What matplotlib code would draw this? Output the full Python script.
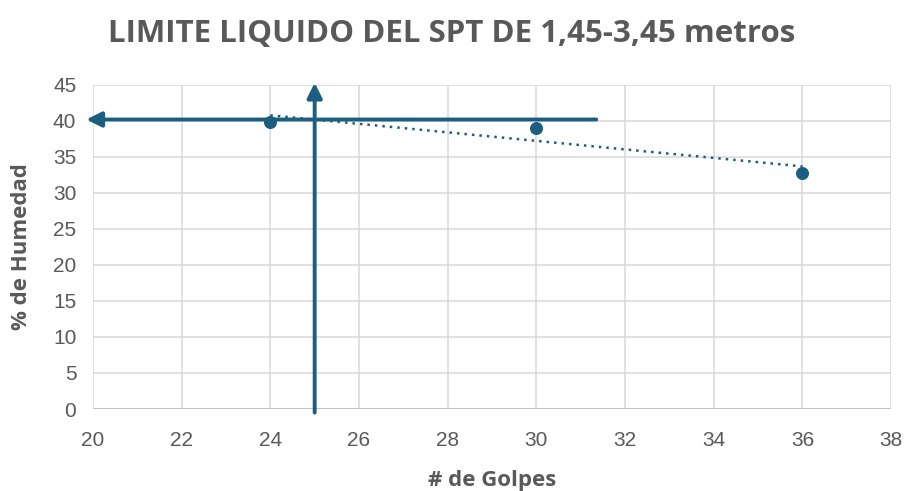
import numpy as np
import matplotlib
matplotlib.use("Agg")
import matplotlib.pyplot as plt

# Ensayo de límite líquido: número de golpes vs humedad
golpes = [24, 30, 36]
humedad = [39.9, 39.0, 32.8]

# Lectura gráfica del límite líquido a 25 golpes
golpes_ref = 25
hum_ref = 40.2
h_arrow_start = 31.35
h_arrow_end = 19.85
v_arrow_start = -0.5
v_arrow_end = 45.3

xticks = list(range(20, 39, 2))
yticks = list(range(0, 46, 5))

color = "#1B5E80"
grey = "#595959"
label_font = ["Open Sans", "DejaVu Sans"]

fig = plt.figure(figsize=(9.06, 4.91), dpi=100)
ax = fig.add_axes([0.1026, 0.167, 0.881, 0.66])

ax.scatter(golpes, humedad, s=70, color=color, zorder=4)

# linea de tendencia lineal
m, b = np.polyfit(golpes, humedad, 1)
xt = np.array([golpes[0], golpes[-1]])
ax.plot(xt, m * xt + b, ls=(0, (1, 2)), lw=1.8, color=color, zorder=3)

arrow = dict(arrowstyle="-|>,head_length=0.9,head_width=0.45", color=color, lw=2.8,
             shrinkA=0, shrinkB=0)
ax.annotate("", xy=(h_arrow_end, hum_ref), xytext=(h_arrow_start, hum_ref),
            arrowprops=arrow, annotation_clip=False, zorder=5)
ax.annotate("", xy=(golpes_ref, v_arrow_end), xytext=(golpes_ref, v_arrow_start),
            arrowprops=arrow, annotation_clip=False, zorder=5)

ax.set_xlim(20, 38)
ax.set_ylim(0, 45)
ax.set_xticks(xticks)
ax.set_yticks(yticks)
ax.grid(color="#D9D9D9", lw=1.1)
ax.set_axisbelow(True)
for s in ax.spines.values():
    s.set_visible(False)
ax.axhline(0, color="#BFBFBF", lw=1.2, zorder=1)
ax.tick_params(length=0, labelsize=15, labelcolor=grey, labelfontfamily="Liberation Sans")
ax.tick_params(axis="y", pad=12)
ax.tick_params(axis="x", pad=16)

fig.text(0.499, 0.93, "LIMITE LIQUIDO DEL SPT DE 1,45-3,45 metros", ha="center",
         va="center", fontsize=22.5, fontweight="bold", color=grey, family=label_font)
fig.text(0.543, 0.022, "# de Golpes", ha="center", va="center", fontsize=16,
         fontweight="bold", color=grey, family=label_font)
fig.text(0.024, 0.497, "% de Humedad", ha="center", va="center", rotation=90,
         fontsize=16, fontweight="bold", color=grey, family=label_font)

fig.savefig("out.png", dpi=100)
